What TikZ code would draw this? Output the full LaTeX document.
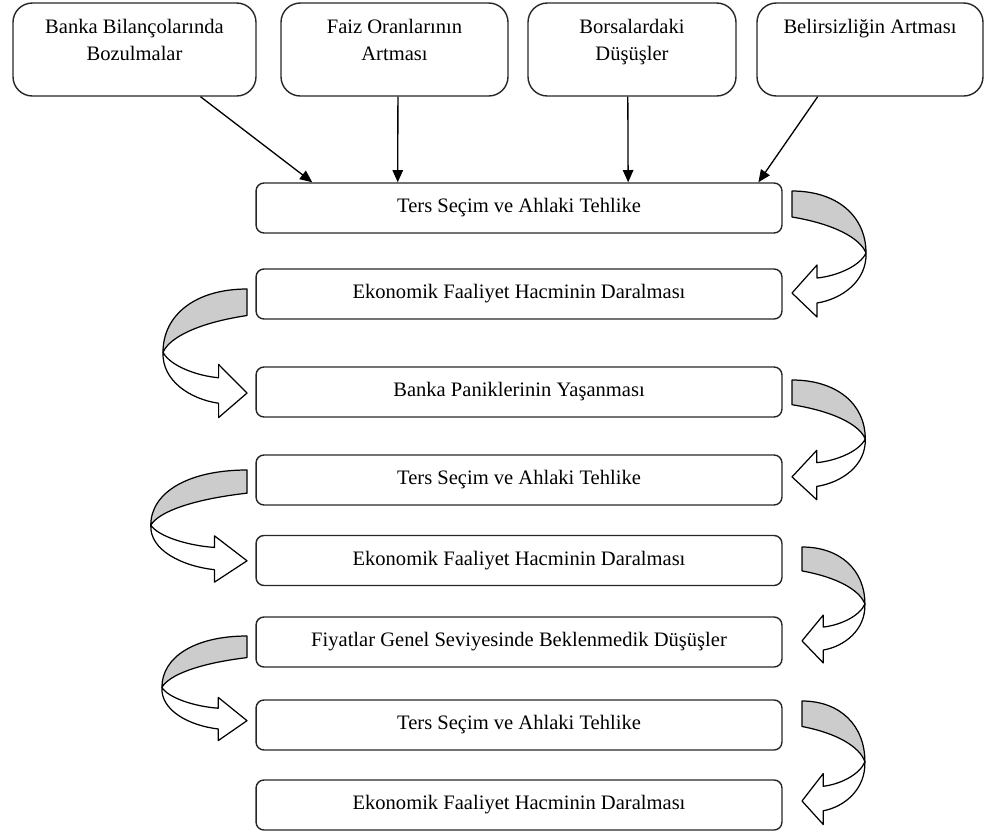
\documentclass[tikz,border=0pt]{standalone}
\usepackage{fontspec}
\setmainfont{Liberation Serif}
\usetikzlibrary{positioning,calc,arrows.meta}

\tikzset{
  causebox/.style={draw=black!85, line width=0.8pt, rounded corners=11pt, minimum height=1.86cm},
  causetxt/.style={anchor=north, align=center, inner sep=0pt, font=\fontsize{11.7}{15.3}\selectfont},
  flowbox/.style={draw=black!85, line width=0.8pt, rounded corners=4.5pt, minimum width=10.52cm, minimum height=1cm, font=\fontsize{11.7}{14}\selectfont},
  feed/.style={-{Triangle[length=7pt,width=6pt]}, line width=0.75pt},
  ribbon/.pic={
    \draw[line width=0.7pt, line join=round, fill=gray!40] (0,0) .. controls (45,0) and (74,25) .. (74,62) .. controls (68,47) and (42,33) .. (0,26) -- cycle;
    \draw[line width=0.7pt, line join=round, fill=white] (74,62) .. controls (68,75) and (45,85) .. (25,87) -- (25,74) -- (0,102) -- (25,126) -- (25,112) .. controls (50,108) and (75,90) .. (74,62) -- cycle;
  }
}

\begin{document}
\begin{tikzpicture}[x=0.02cm, y=-0.02cm]
  \useasboundingbox (0,0) rectangle (991,833);

  % causes on top
  \foreach \x/\w/\t [count=\i] in {134.5/243/{Banka Bilançolarında\\Bozulmalar}, 394.5/227/{Faiz Oranlarının\\Artması}, 632/208/{Borsalardaki\\Düşüşler}, 870/226/{Belirsizliğin Artması}} {
    \node[causebox, minimum width=\w*0.02cm] (c\i) at (\x,49.5) {};
    \node[causetxt] (t\i) at ($(c\i.north)+(0,17)$) {\t};
  }

  % chain of effects
  \foreach \y/\t [count=\i] in {208/Ters Seçim ve Ahlaki Tehlike, 294/Ekonomik Faaliyet Hacminin Daralması, 392/Banka Paniklerinin Yaşanması, 480/Ters Seçim ve Ahlaki Tehlike, 560.5/Ekonomik Faaliyet Hacminin Daralması, 642/Fiyatlar Genel Seviyesinde Beklenmedik Düşüşler, 725/Ters Seçim ve Ahlaki Tehlike, 805/Ekonomik Faaliyet Hacminin Daralması}
    \node[flowbox] (f\i) at (519,\y) {\t};

  \draw[feed] ($(c1.south west)!0.77!(c1.south east)$) -- ($(f1.north west)!0.108!(f1.north east)$);
  \draw[feed] ($(c2.south west)!0.515!(c2.south east)$) -- ($(f1.north west)!0.27!(f1.north east)$);
  \draw[feed] ($(c3.south west)!0.48!(c3.south east)$) -- ($(f1.north west)!0.707!(f1.north east)$);
  \draw[feed] ($(c4.south west)!0.27!(c4.south east)$) -- ($(f1.north west)!0.954!(f1.north east)$);

  % turning arrows
  \pic at (792,191) {ribbon};
  \pic[xscale=-1.135, yscale=1.02] at (247,289) {ribbon};
  \pic[xscale=0.99, yscale=0.95] at (792,380) {ribbon};
  \pic[xscale=-1.3, yscale=0.89] at (247,470) {ribbon};
  \pic[xscale=0.85, yscale=0.92] at (802,547) {ribbon};
  \pic[xscale=-1.15, yscale=0.83] at (247,636) {ribbon};
  \pic[xscale=0.85, yscale=0.98] at (802,701) {ribbon};
\end{tikzpicture}
\end{document}
